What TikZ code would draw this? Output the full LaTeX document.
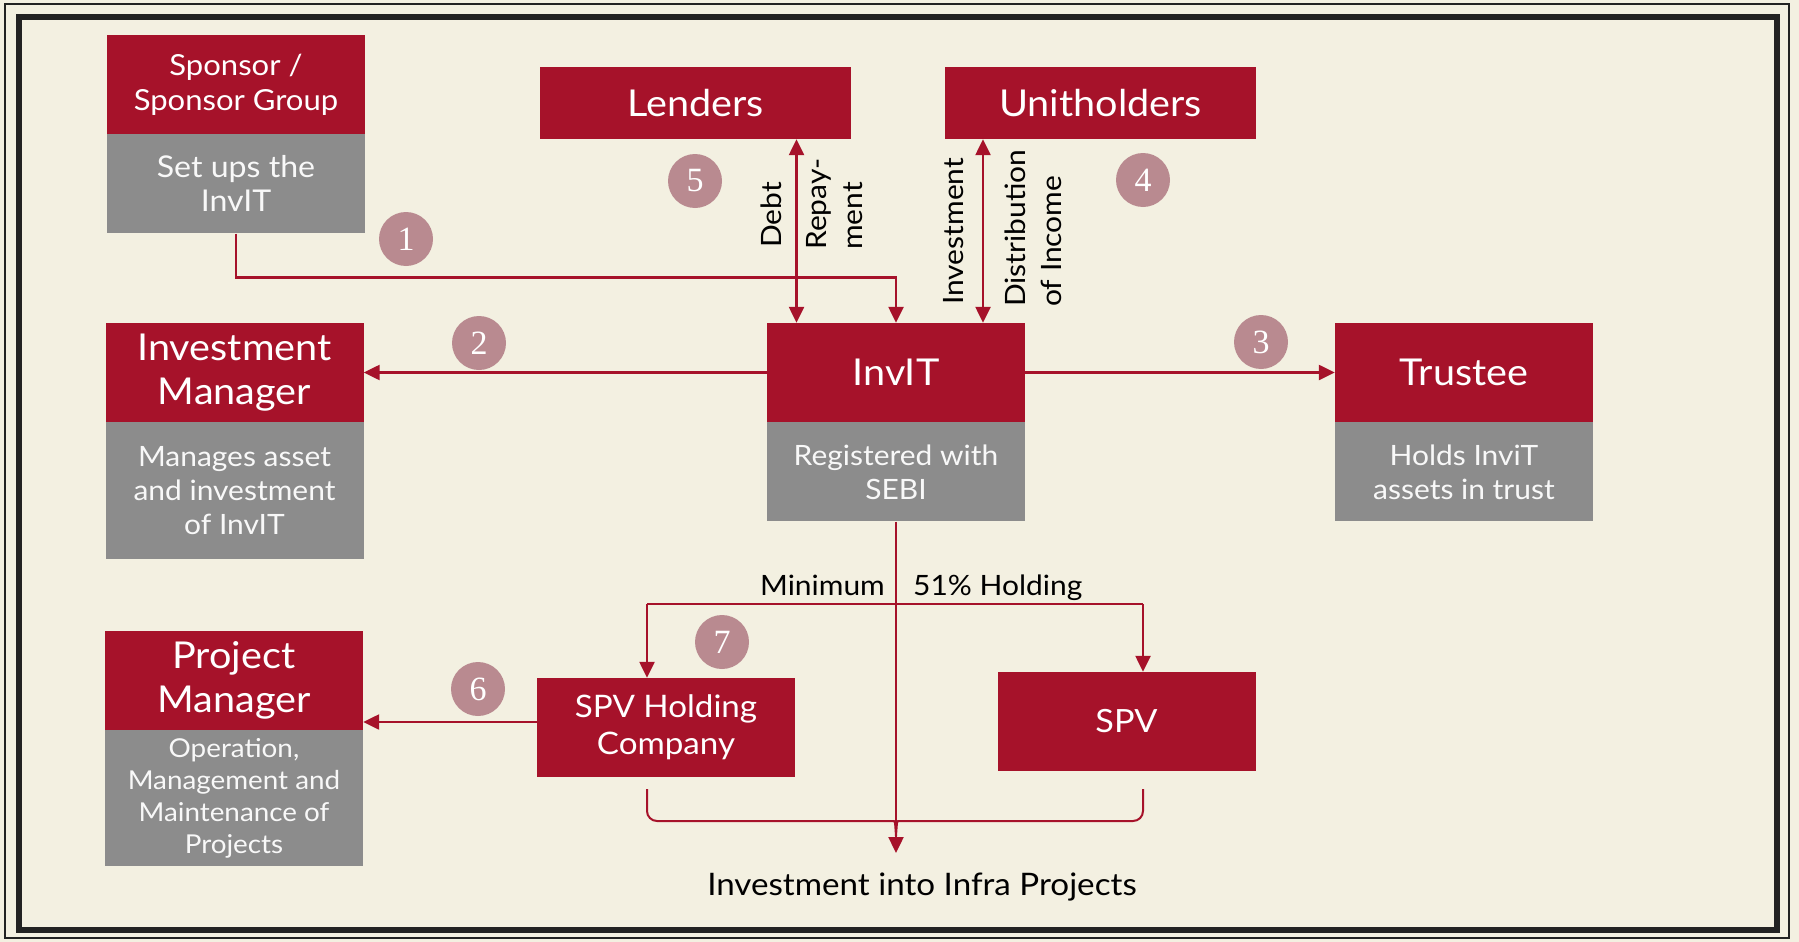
\documentclass[tikz,border=0pt]{standalone}
\usepackage{fontspec}
\setmainfont{Lato}[FakeStretch=1.07]
\newfontfamily\stepfont{Liberation Serif}
\usetikzlibrary{positioning,arrows.meta}

\definecolor{invred}{HTML}{A6122A}
\definecolor{invgray}{HTML}{8C8C8C}
\definecolor{paper}{HTML}{F3F0E1}
\definecolor{dotrose}{HTML}{B98A90}
\definecolor{framegray}{HTML}{222222}

\newcommand{\bigtxt}{\fontsize{37}{44}\selectfont}
\newcommand{\midtxt}{\fontsize{30}{34}\selectfont}
\newcommand{\smalltxt}{\fontsize{28}{34}\selectfont}

\tikzset{
  head/.style={fill=invred, text=white, inner sep=0pt, align=center,
    minimum width=258pt, minimum height=99pt, font=\bigtxt},
  note/.style={fill=invgray, text=white!94!invgray, inner sep=0pt, align=center,
    minimum width=258pt, minimum height=99pt, font=\smalltxt},
  link/.style={draw=invred, line width=2.4pt},
  flow/.style={link, -{Triangle[length=16pt,width=15pt]}},
  twoway/.style={link, {Triangle[length=16pt,width=15pt]}-{Triangle[length=16pt,width=15pt]}},
  stepno/.style={circle, fill=dotrose, text=white, minimum size=54pt, inner sep=0pt,
    font=\stepfont\fontsize{34}{34}\selectfont},
  lbl/.style={inner sep=0pt, align=left, font=\fontsize{28}{36}\selectfont},
}

\begin{document}
\begin{tikzpicture}[x=1pt,y=-1pt]
	\useasboundingbox (0,0) rectangle (1799,942);
	\fill[paper] (0,0) rectangle (1799,942);
	\draw[framegray, line width=1.5pt] (5,4) rectangle (1789,938);
	\draw[framegray, line width=6pt] (19,17) rectangle (1777,930);

	% parties
	\node[head, font=\fontsize{29}{35}\selectfont] (spons) at (236,84.5) {Sponsor /\\Sponsor Group};
	\node[note, font=\midtxt, below=0pt of spons] (sponsb) {Set ups the\\InvIT};
	\node[head, minimum width=311pt, minimum height=72pt] (lend) at (695.5,103) {Lenders};
	\node[head, minimum width=311pt, minimum height=72pt] (unit) at (1100.5,103) {Unitholders};
	\node[head] (inv) at (896,372.5) {InvIT};
	\node[note, below=0pt of inv] (invb) {Registered with\\SEBI};
	\node[head] (im) at (234.5,372.5) {Investment\\Manager};
	\node[note, minimum height=137pt, below=0pt of im] (imb) {Manages asset\\and investment\\of InvIT};
	\node[head] (trus) at (1464,372.5) {Trustee};
	\node[note, below=0pt of trus] (trusb) {Holds InviT\\assets in trust};
	\node[head] (pm) at (234,680.5) {Project\\Manager};
	\node[note, minimum height=136pt, font=\fontsize{26}{32}\selectfont, below=0pt of pm] (pmb)
		{Operation,\\Management and\\Maintenance of\\Projects};
	\node[head, font=\fontsize{31}{37}\selectfont] (hold) at (666,727.5) {SPV Holding\\Company};
	\node[head, font=\fontsize{32}{38}\selectfont] (spv) at (1126.5,721.5) {SPV};
	\node[font=\fontsize{31}{37}\selectfont, anchor=base] (infra) at (922,895) {Investment into Infra Projects};
	\coordinate (tip) at (896,853);

	% labels on the links
	\node[lbl, rotate=90, anchor=base west] (debt) at (781,248) {Debt};
	\node[lbl, rotate=90, anchor=north west] (repay) at (806,250) {Repay-\\ment};
	\node[lbl, rotate=90, anchor=base west] (invest) at (963,305) {Investment};
	\node[lbl, rotate=90, anchor=north west] (distr) at (1005,307) {Distribution\\of Income};
	\node[lbl, anchor=base east] (minl) at (885,595) {Minimum};
	\node[lbl, anchor=base west] (holdl) at (913,595) {51\% Holding};

	% links
	\draw[flow] (sponsb.south) -- ++(0,44) -| (inv.north);
	\draw[twoway] ([xshift=101pt]lend.south) -- ([xshift=101pt]lend.south |- inv.north);
	\draw[twoway] ([xshift=-117.5pt]unit.south) -- ([xshift=-117.5pt]unit.south |- inv.north);
	\draw[flow] (inv.west) -- (im.east);
	\draw[flow] (inv.east) -- (trus.west);
	\draw[flow] ([yshift=5.5pt]hold.west) -- ([yshift=5.5pt]hold.west -| pm.east);
	\coordinate (brl) at (647,604);
	\coordinate (brr) at (1143,604);
	\draw[link] (brl) -- (brr);
	\draw[flow] (brl) -- (brl |- hold.north);
	\draw[flow] (brr) -- (brr |- spv.north);
	\draw[flow] (invb.south) -- (tip);
	\draw[link, line width=2pt, rounded corners=10pt] (647,789) -- (647,821) -- (884,821) .. controls (895,821) .. (896,836);
	\draw[link, line width=2pt, rounded corners=10pt] (1143,789) -- (1143,821) -- (908,821) .. controls (897,821) .. (896,836);

	% step numbers
	\node[stepno] (n1) at (406,239) {1};
	\node[stepno] (n2) at (479,343) {2};
	\node[stepno] (n3) at (1261,342) {3};
	\node[stepno] (n4) at (1143,180) {4};
	\node[stepno] (n5) at (695,181) {5};
	\node[stepno] (n6) at (478,689) {6};
	\node[stepno] (n7) at (722,642) {7};
\end{tikzpicture}
\end{document}
